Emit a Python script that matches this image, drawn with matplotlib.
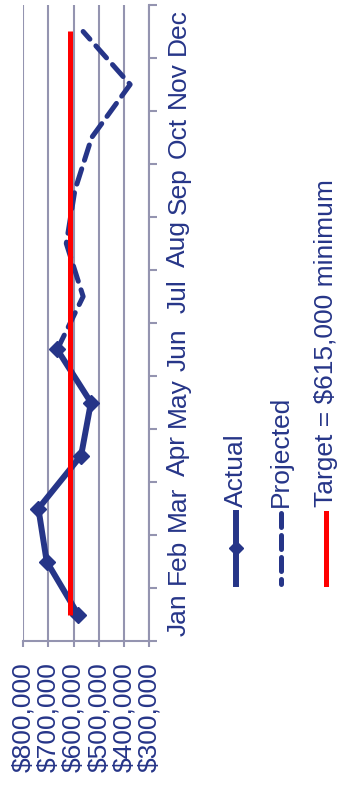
import numpy as np
import matplotlib.pyplot as plt

plt.rcParams['font.family'] = ['Liberation Sans', 'DejaVu Sans']

months = ["Jan", "Feb", "Mar", "Apr", "May", "Jun",
          "Jul", "Aug", "Sep", "Oct", "Nov", "Dec"]
actual = [582000, 707000, 740000, 570000, 531000, 665000]
# projection picks up from the last actual month (Jun)
projected = [665000, 562000, 629000, 595000, 528000, 375000, 562000]
target = 615000
value_ticks = [800000, 700000, 600000, 500000, 400000, 300000]

navy = "#263588"
grid_c = "#9494B0"
fs = 19

W, H = 338, 786
fig = plt.figure(figsize=(W / 100, H / 100), dpi=100)
ax = fig.add_axes([23.3 / W, 145 / H, (149 - 23.3) / W, (641 - 5) / H])

idx = np.arange(len(months))
n_act = len(actual)

# chart is laid on its side: values run along x, months along y
ax.plot(actual, idx[:n_act], color=navy, lw=4.3, marker='D', ms=8.5,
        mec=navy, zorder=3, solid_joinstyle='miter')
ax.plot(projected, idx[n_act - 1:], color=navy, lw=3.6,
        ls=(0, (3.2, 1.8)), dash_capstyle='round', zorder=3)
ax.plot([target] * len(months), idx, color='red', lw=3.6, zorder=4,
        solid_capstyle='butt')

ax.set_xlim(800000, 300000)
ax.set_ylim(-0.5, len(months) - 0.5)

ax.set_xticks(value_ticks)
ax.set_xticklabels([f"${v:,}" for v in value_ticks], rotation=90,
                   color=navy, fontsize=fs)
ax.tick_params(axis='x', direction='out', length=4.3, width=1.5,
               color=grid_c, pad=11)
ax.xaxis.grid(True, color=grid_c, lw=1.5)
ax.set_axisbelow(True)

ax.yaxis.tick_right()
ax.set_yticks(idx)
ax.set_yticklabels(months, rotation=90, va='center', ha='left',
                   color=navy, fontsize=fs)
ax.set_yticks(np.arange(-0.5, len(months)), minor=True)
ax.tick_params(axis='y', which='major', length=0, pad=12.5)
ax.tick_params(axis='y', which='minor', direction='out', length=5.5,
               width=1.5, color=grid_c)

for s in ['left', 'top']:
    ax.spines[s].set_visible(False)
for s in ['bottom', 'right']:
    ax.spines[s].set_color(grid_c)
    ax.spines[s].set_linewidth(1.5)

# legend drawn by hand so that its entries can stand rotated
lax = fig.add_axes([0, 0, 1, 1])
lax.set_xlim(0, W)
lax.set_ylim(H, 0)
lax.axis('off')

entries = [
    ("Actual", dict(color=navy, lw=4.3), True),
    ("Projected", dict(color=navy, lw=3.6, ls=(0, (2.8, 1.6)),
                       dash_capstyle='round'), False),
    ("Target = $615,000 minimum", dict(color='red', lw=3.6), False),
]
for i, (label, style, has_marker) in enumerate(entries):
    x = 236 + 45 * i
    lax.plot([x, x], [513, 584], **style)
    if has_marker:
        lax.plot([x], [548], marker='D', ms=7.5, color=navy)
    lax.text(x, 507, label, rotation=90, ha='center', va='bottom',
             color=navy, fontsize=fs)

fig.savefig("out.png", dpi=100)
